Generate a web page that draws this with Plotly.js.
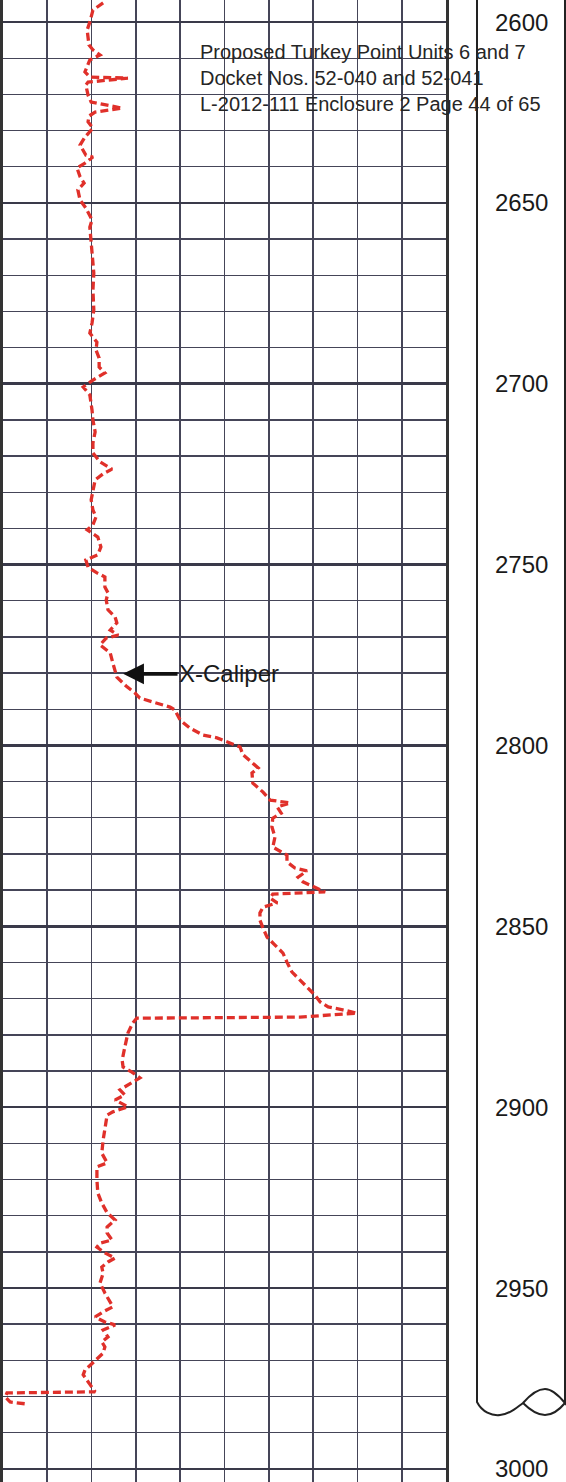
<!DOCTYPE html>
<html>
<head>
<meta charset="utf-8">
<script src="https://cdn.plot.ly/plotly-3.0.1.min.js"></script>
<style>html,body{margin:0;padding:0;background:#fff;}#chart{width:566px;height:1482px;}</style>
</head>
<body>
<div id="chart"></div>
<script>
// ---- data (caliper reading in chart divisions, depth in ft) ----
const caliperDepth = [
2594.7,2596.7,2600.0,2602.2,2606.3,2607.7,2609.1,2610.5,2613.8,2615.2,2615.5,2616.6,2617.4,2620.2,2622.1,2623.8,2624.9,2626.0,2627.6,2629.3,
2631.8,2634.0,2636.8,2637.3,2639.0,2640.3,2642.8,2644.5,2646.4,2649.2,2651.4,2654.7,2656.7,2661.6,2665.8,2669.4,2674.1,2679.6,2683.2,2686.0,
2688.5,2690.7,2692.9,2695.4,2697.0,2699.0,2700.9,2703.1,2707.3,2710.0,2713.3,2716.4,2719.1,2721.6,2723.6,2724.9,2726.6,2729.4,2732.1,2734.9,
2736.8,2739.0,2740.4,2742.4,2745.1,2747.3,2748.7,2750.7,2752.3,2753.4,2756.2,2757.8,2759.8,2762.5,2764.5,2766.1,2768.1,2769.5,2770.3,2772.2,
2774.4,2777.2,2781.1,2783.8,2785.5,2786.9,2788.0,2789.4,2790.2,2793.0,2795.2,2797.1,2797.9,2799.0,2800.4,2802.6,2804.8,2806.2,2807.6,2810.4,
2812.9,2815.1,2815.9,2817.0,2818.7,2820.1,2822.5,2825.3,2828.1,2828.9,2830.3,2832.2,2833.9,2834.7,2836.4,2837.7,2839.1,2840.5,2841.1,2842.2,
2843.5,2844.7,2846.3,2848.3,2850.5,2853.0,2855.2,2857.4,2859.9,2862.6,2864.8,2867.1,2869.0,2870.9,2872.3,2873.1,2874.0,2875.1,2875.4,2876.7,
2879.5,2883.4,2887.0,2888.9,2890.3,2891.9,2893.9,2895.2,2896.6,2898.0,2899.9,2901.3,2902.2,2905.5,2909.1,2912.7,2915.4,2916.5,2920.1,2923.7,
2926.5,2929.2,2931.2,2933.1,2934.8,2936.7,2937.6,2938.7,2940.3,2941.7,2942.8,2944.2,2945.9,2948.6,2951.4,2953.9,2955.2,2956.6,2958.0,2959.4,
2960.2,2961.6,2963.5,2964.9,2966.3,2968.0,2969.3,2970.7,2972.7,2974.0,2976.0,2977.6,2978.7,2979.0,2980.1,2981.5,2982.1
];
const caliperValue = [
2.26,2.03,1.96,1.90,1.94,2.03,2.19,1.96,1.85,1.96,2.82,1.92,1.87,1.92,1.99,2.69,2.08,1.94,1.92,2.03,
1.85,1.74,1.87,2.03,1.85,1.67,1.74,1.83,1.69,1.74,1.87,2.01,1.96,1.99,2.01,2.05,2.03,2.05,2.01,1.96,
2.12,2.10,2.17,2.17,2.30,2.03,1.81,1.96,2.01,2.03,2.08,2.03,2.03,2.19,2.46,2.26,2.08,2.03,1.99,2.03,
2.10,2.03,1.90,2.14,2.21,2.14,1.87,1.92,2.12,2.30,2.30,2.37,2.33,2.37,2.53,2.57,2.42,2.60,2.33,2.19,
2.42,2.48,2.57,2.80,2.98,3.09,3.39,3.77,3.88,4.00,4.22,4.51,4.83,5.06,5.35,5.42,5.62,5.76,5.62,5.64,
5.87,6.03,6.48,6.19,6.28,6.09,6.07,6.14,6.09,6.21,6.41,6.41,6.59,6.86,6.66,6.77,7.00,7.27,6.09,6.03,
6.19,5.87,5.80,5.80,5.87,5.96,6.14,6.32,6.41,6.52,6.70,6.88,7.04,7.16,7.34,7.67,7.99,6.70,3.02,2.93,
2.82,2.75,2.69,2.71,2.91,3.09,2.80,2.64,2.75,2.53,2.82,2.48,2.35,2.30,2.26,2.23,2.35,2.12,2.12,2.14,
2.23,2.35,2.53,2.35,2.35,2.46,2.19,2.12,2.30,2.53,2.37,2.23,2.26,2.19,2.30,2.42,2.48,2.26,2.08,2.30,
2.53,2.26,2.37,2.23,2.30,2.26,2.14,2.01,1.85,1.81,1.92,2.01,2.08,0.09,0.05,0.16,0.56
];
const depthLabels = ['2600','2650','2700','2750','2800','2850','2900','2950','3000'];
const depthLabelValues = [2600,2650,2700,2750,2800,2850,2900,2950,3000];
const curveName = 'X-Caliper';
const curvePointer = {value: 2.71, depth: 2780.2};
const headerLines = ['Proposed Turkey Point Units 6 and 7','Docket Nos. 52-040 and 52-041','L-2012-111 Enclosure 2 Page 44 of 65'];

// ---- layout geometry ----
const W = 566, H = 1482;
const D0 = 2593.9, PXFT = 3.617;
const D1 = D0 + H / PXFT;
const gridColor = '#454558';
const font = 'Liberation Sans, Arial, sans-serif';
const px = x => x / W;
const pd = y => D0 + y / PXFT;

function pathFrom(cmds){
  return cmds.map(c => c[0] + ' ' + c.slice(1).map(p => px(p[0]).toFixed(5) + ',' + pd(p[1]).toFixed(3)).join(' ')).join(' ');
}

const shapes = [];
// right depth track outline with break symbol
shapes.push({type:'path', xref:'paper', yref:'y', line:{color:'#222', width:2},
  path: pathFrom([
    ['M',[477,0]],['L',[477,1402]],
    ['C',[482,1412],[492,1416],[500,1415]],
    ['C',[510,1414],[516,1408],[523,1403]],
    ['C',[530,1395],[538,1389],[545,1389]],
    ['C',[553,1389],[560,1397],[565,1403]],
    ['L',[565,0]]
  ])});
shapes.push({type:'path', xref:'paper', yref:'y', line:{color:'#222', width:2},
  path: pathFrom([
    ['M',[523,1403]],
    ['C',[530,1410],[538,1415],[545,1415]],
    ['C',[553,1415],[560,1409],[565,1403]]
  ])});

const annotations = depthLabels.map((t,i) => ({
  text: t, xref:'paper', yref:'y', x: px(521), y: depthLabelValues[i],
  xanchor:'center', yanchor:'middle', showarrow:false,
  font:{family:font, size:24, color:'#1a1a1a'}
}));
annotations.push({
  text: headerLines.join('<br>'), xref:'paper', yref:'paper', x: px(198), y: 1 - 78/H,
  xanchor:'left', yanchor:'middle', align:'left', showarrow:false,
  font:{family:font, size:20, color:'#262626'}
});
annotations.push({
  text: curveName, xref:'x', yref:'y', x: curvePointer.value, y: curvePointer.depth,
  ax: 106, ay: 0, showarrow:true, arrowhead:2, arrowsize:1.1, arrowwidth:3.8, arrowcolor:'#111',
  standoff:0, font:{family:font, size:24, color:'#1a1a1a'}
});

const trace = {
  x: caliperValue, y: caliperDepth, type:'scatter', mode:'lines', name: curveName,
  line:{color:'#e0302a', width:3.3, dash:'8px,4px'}, hoverinfo:'skip'
};

const layout = {
  width: W, height: H, margin:{l:0,r:0,t:0,b:0,pad:0},
  paper_bgcolor:'#fff', plot_bgcolor:'#fff', showlegend:false,
  xaxis:{domain:[px(3), px(446)], range:[0,10], dtick:1, tick0:0, showgrid:true,
    gridcolor:gridColor, gridwidth:1.7, zeroline:false, showticklabels:false, ticks:'', showline:false, fixedrange:true},
  yaxis:{domain:[0,1], range:[D1, D0], dtick:10, tick0:2600, showgrid:true,
    gridcolor:gridColor, gridwidth:1.4, zeroline:false, showticklabels:false, ticks:'',
    showline:true, mirror:true, linecolor:'#333', linewidth:3, fixedrange:true},
  yaxis2:{overlaying:'y', range:[D1, D0], dtick:50, tick0:2600, showgrid:true,
    gridcolor:'#3a3a4a', gridwidth:2.6, zeroline:false, showticklabels:false, ticks:'', showline:false, fixedrange:true},
  shapes: shapes, annotations: annotations
};

const trace2 = {x:[null], y:[null], yaxis:'y2', type:'scatter', mode:'lines', hoverinfo:'skip', showlegend:false};

Plotly.newPlot('chart', [trace2, trace], layout, {staticPlot:true, displayModeBar:false});
</script>
</body>
</html>
